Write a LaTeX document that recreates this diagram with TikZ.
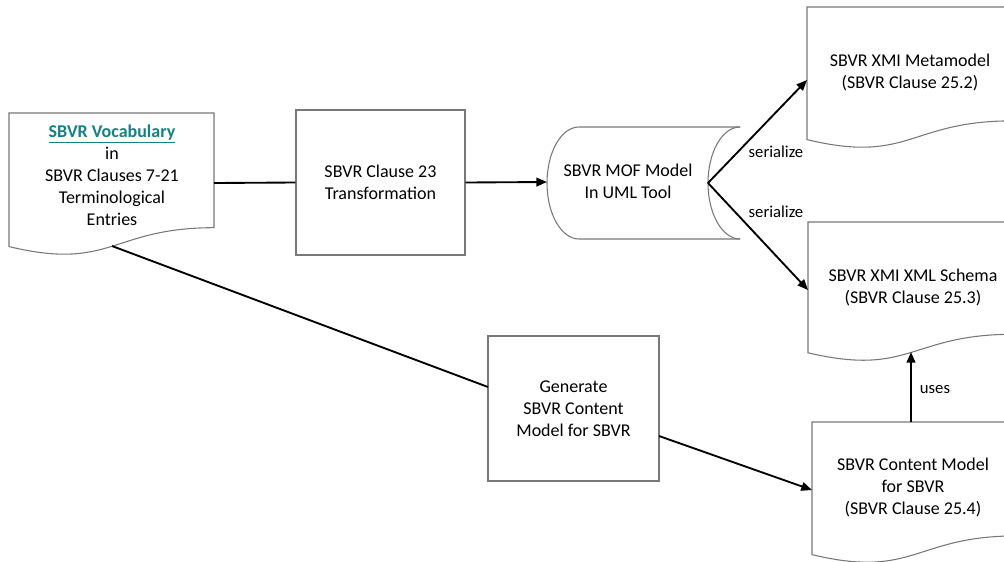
\documentclass[tikz,border=0pt]{standalone}
\usepackage{fontspec}
\setmainfont{Carlito}
\usetikzlibrary{arrows.meta}
\definecolor{gbord}{RGB}{120,120,120}
\definecolor{linkc}{RGB}{20,130,130}
\newcommand\docshape[4]{%
  \draw[shapeline] (#1,#2) -- ({#1+#3},#2) -- ({#1+#3},{#2+0.802*#4})
    .. controls ({#1+0.5*#3},{#2+0.802*#4}) and ({#1+0.5*#3},{#2+1.1075*#4}) .. (#1,{#2+0.934*#4}) -- cycle;}
\tikzset{
  shapeline/.style={draw=gbord, line width=0.8pt},
  txt/.style={align=center, font=\fontsize{13.5}{16.5}\selectfont, inner sep=0pt},
  lbl/.style={font=\fontsize{12.5}{15}\selectfont, inner sep=0pt},
  boxnode/.style={shapeline, rectangle, align=center, font=\fontsize{13.5}{16.5}\selectfont},
  conn/.style={line width=1.4pt, black},
  arr/.style={conn, -{Triangle[length=8pt,width=6.5pt]}},
}
\begin{document}
\begin{tikzpicture}[x=0.75pt,y=-0.75pt]
\useasboundingbox (0,0) rectangle (1004,561);
\fill[white] (0,0) rectangle (1004,561);
% documents
\docshape{9}{113}{205}{143}
\node[txt] (voc) at (112,175) {{\bfseries\color{linkc}\underline{SBVR Vocabulary}}\\in\\SBVR Clauses 7-21\\Terminological\\Entries};
\docshape{807}{7}{205}{142}
\node[txt] (meta) at (910,72) {SBVR XMI Metamodel\\(SBVR Clause 25.2)};
\docshape{808}{222}{205}{140}
\node[txt] (schema) at (913,287) {SBVR XMI XML Schema\\(SBVR Clause 25.3)};
\docshape{812}{422}{205}{142}
\node[txt] (content) at (913,487) {SBVR Content Model\\for SBVR\\(SBVR Clause 25.4)};
% boxes
\node[boxnode, minimum width=126.75pt, minimum height=108.75pt] (c23) at (380.5,182.5) {SBVR Clause 23\\Transformation};
\node[boxnode, minimum width=128.25pt, minimum height=108.75pt] (gen) at (573.5,408.5) {Generate\\SBVR Content\\Model for SBVR};
% cylinder
\draw[shapeline] (740,127) -- (579,127) arc[start angle=-90, end angle=-270, x radius=32, y radius=56] -- (740,239);
\draw[shapeline] (740,127) arc[start angle=-90, end angle=-270, x radius=32, y radius=56];
\node[txt] (mof) at (628,181) {SBVR MOF Model\\In UML Tool};
% labels
\node[lbl] (s1) at (776,152) {serialize};
\node[lbl] (s2) at (776,212) {serialize};
\node[lbl] (uses) at (935,390) {uses};
% anchor coordinates
\coordinate (vocr) at (214,183);
\coordinate (vocw) at (112,246);
\coordinate (mofl) at (547,182);
\coordinate (mofr) at (708,183);
\coordinate (metal) at (807,80);
\coordinate (schemal) at (808,290);
\coordinate (schemab) at (911,352);
\coordinate (contentl) at (812,490);
\coordinate (contentt) at (911,422);
\coordinate (genl) at (488,387);
\coordinate (genr) at (659,436);
% connectors
\draw[conn] (vocr) -- (c23.west);
\draw[arr] (c23.east) -- (mofl);
\draw[arr] (mofr) -- (metal);
\draw[arr] (mofr) -- (schemal);
\draw[conn] (vocw) -- (genl);
\draw[arr] (genr) -- (contentl);
\draw[arr] (contentt) -- (schemab);
\end{tikzpicture}
\end{document}
